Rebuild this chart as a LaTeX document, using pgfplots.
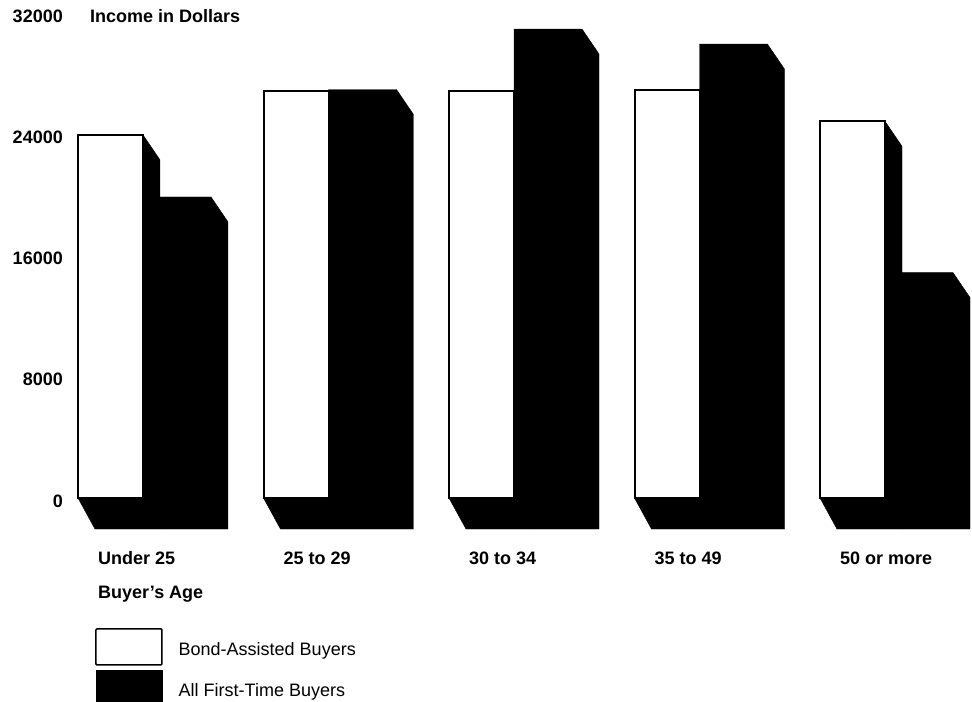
\documentclass[border=0pt]{standalone}
\usepackage{pgfplots}
\pgfplotsset{compat=1.18}
\usepackage{pgfplotstable}
\usepackage{fontspec}
\setmainfont{Liberation Sans}

\pgfplotstableread{
grp white black
0 24000 19900
1 26900 27000
2 26900 31000
3 27000 30000
4 24900 14900
}\incometable

\newcommand\ww{0.3504}
\newcommand\bw{0.3666}
\newcommand\dx{0.0916}
\newcommand\dyTop{1650}
\newcommand\dyBot{2050}

\newcommand\prism[3]{%
  \pgfmathsetmacro\xa{#1}%
  \pgfmathsetmacro\xb{#1+#2}%
  \pgfmathsetmacro\xc{#1+#2+\dx}%
  \pgfmathsetmacro\xd{#1+\dx}%
  \edef\yt{#3}%
  \edef\ytt{\the\numexpr#3-\dyTop\relax}%
  \edef\doplot{\noexpand\addplot[forget plot, fill=black, draw=black, line width=0.4bp] coordinates {(\xa,0) (\xa,\yt) (\xb,\yt) (\xc,\ytt) (\xc,-\dyBot) (\xd,-\dyBot)} -- cycle;}%
  \doplot
}
\newcommand\frontface[3]{%
  \pgfmathsetmacro\xa{#1}%
  \pgfmathsetmacro\xb{#1+#2}%
  \edef\yt{#3}%
  \edef\doplot{\noexpand\addplot[forget plot, fill=white, draw=black, line width=2bp] coordinates {(\xa,0) (\xa,\yt) (\xb,\yt) (\xb,0)} -- cycle;}%
  \doplot
}
\newcommand\lblfont{\bfseries\fontsize{18bp}{21bp}\selectfont}

\begin{document}
\begin{tikzpicture}
\path[use as bounding box] (0,0) rectangle (972bp,702bp);
\begin{axis}[
  scale only axis, width=890.4bp, height=515.9bp,
  at={(78bp,172.2bp)}, anchor=south west,
  xmin=0, xmax=4.8, ymin=-2100, ymax=32000,
  clip=false,
  axis lines=left, axis line style={draw=none},
  major tick length=0pt, tick style={draw=none},
  scaled y ticks=false, scaled x ticks=false,
  xtick={0,1,2,3,4},
  xticklabels={Under 25,25 to 29,30 to 34,35 to 49,50 or more},
  ytick={0,8000,16000,24000,32000},
  yticklabels={0,8000,16000,24000,32000},
  xticklabel style={anchor=base west, inner sep=0pt, xshift=20bp, yshift=-35bp, font=\lblfont},
  yticklabel style={anchor=base east, inner sep=0pt, xshift=-15bp, yshift=-9bp, font=\lblfont},
  title={Income in Dollars},
  title style={at={(axis description cs:0.0135,0.9715)}, anchor=base west, inner sep=0pt, font=\lblfont},
  xlabel={Buyer's Age},
  xlabel style={at={(axis description cs:0.0225,-0.1322)}, anchor=base west, inner sep=0pt, font=\lblfont},
  legend style={at={(axis description cs:0.0191,-0.1903)}, anchor=north west,
    draw=none, fill=none, inner sep=0pt, row sep=4bp,
    font=\fontsize{18bp}{21bp}\selectfont, nodes={inner sep=0pt, yshift=-3bp},
    /tikz/every odd column/.append style={column sep=16bp}},
  legend cell align=left,
]
\pgfplotsinvokeforeach{0,...,4}{%
  \pgfplotstablegetelem{#1}{white}\of\incometable \let\vw\pgfplotsretval
  \pgfplotstablegetelem{#1}{black}\of\incometable \let\vb\pgfplotsretval
  \pgfmathsetmacro\bl{#1+\ww}
  \prism{#1}{\ww}{\vw}
  \frontface{#1}{\ww}{\vw}
  \prism{\bl}{\bw}{\vb}
}
\addlegendimage{legend image code/.code={\draw[black,fill=white,line width=1.5bp,rounded corners=1bp] (0bp,-18bp) rectangle (66bp,18bp);}}
\addlegendentry{Bond-Assisted Buyers}
\addlegendimage{legend image code/.code={\fill[black] (0bp,-18bp) rectangle (66bp,18bp);}}
\addlegendentry{All First-Time Buyers}
\end{axis}
\end{tikzpicture}
\end{document}
